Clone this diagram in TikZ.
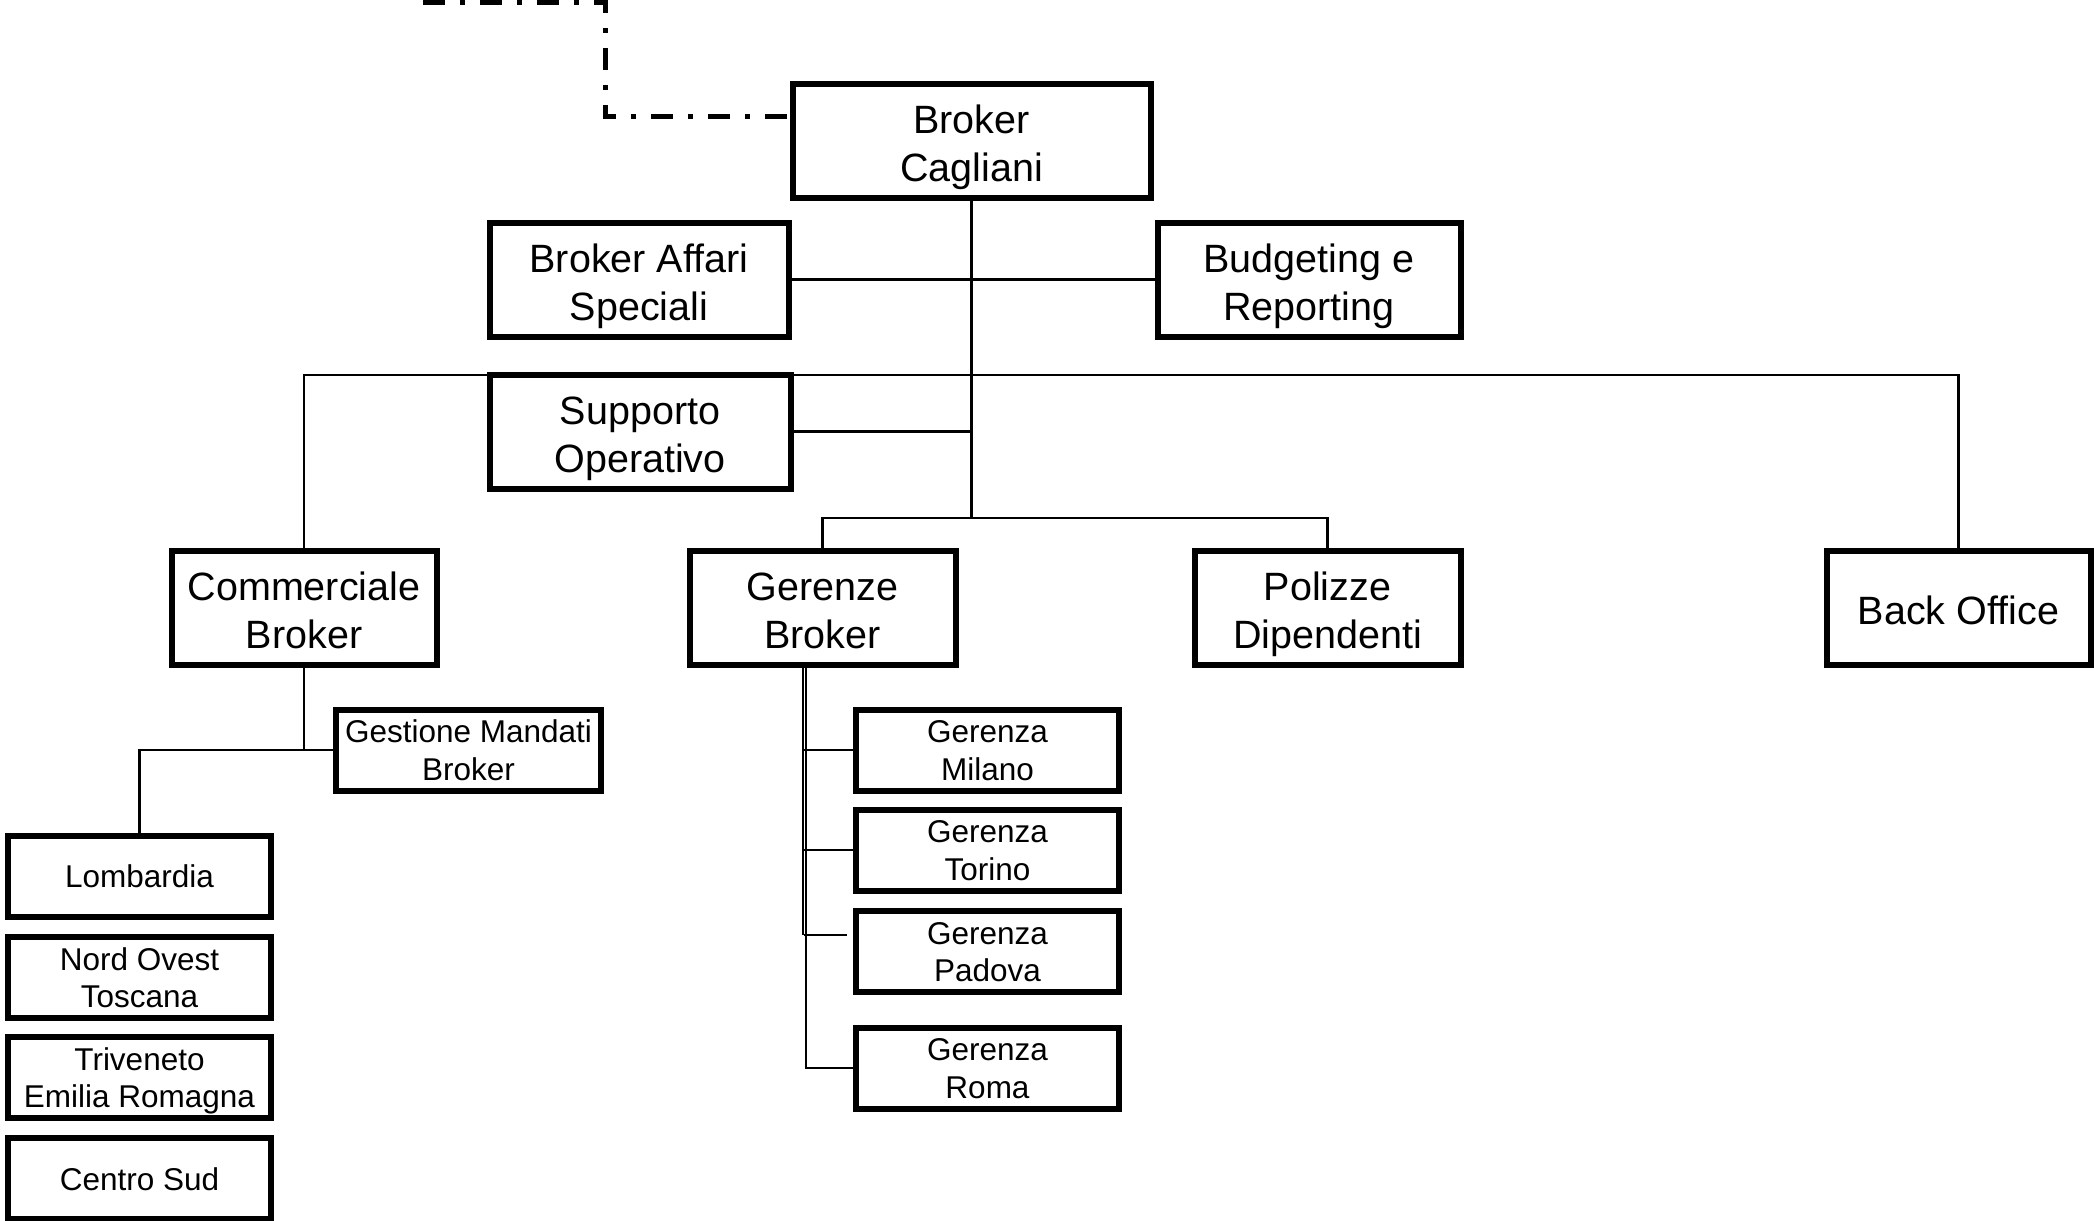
\documentclass[tikz,border=0pt]{standalone}
\usepackage{fontspec}
\setmainfont{Liberation Sans}
\newcommand{\bxfont}{\fontsize{39.5}{48}\selectfont}
\newcommand{\sbxfont}{\fontsize{31.5}{37.5}\selectfont}
\newcommand{\bA}{\rule{0pt}{49pt}}
\newcommand{\bB}{\rule[-14.4pt]{0pt}{14.4pt}}
\newcommand{\sA}{\rule{0pt}{33pt}}
\newcommand{\sB}{\rule[-9.7pt]{0pt}{9.7pt}}
\begin{document}
\begin{tikzpicture}[x=1pt,y=-1pt,
  box/.style={draw, line width=6pt, align=center, inner sep=0pt, font=\bxfont, minimum height=114pt},
  sbox/.style={draw, line width=6pt, align=center, inner sep=0pt, font=\sbxfont, minimum height=81pt, minimum width=263pt},
  conn/.style={line width=2.2pt},
  dashdot/.style={line width=5pt, dash pattern=on 22pt off 15pt on 5pt off 15pt}]
\fill[white] (0,0) rectangle (2094,1221);
\useasboundingbox (0,0) rectangle (2094,1221);
% top level
\node[box, minimum width=358pt] (bc) at (971.5,140.5) {\bA Broker\\Cagliani\bB};
\node[box, minimum width=299pt] (bas) at (639,279.5) {\bA Broker Affari\\Speciali\bB};
\node[box, minimum width=303pt] (br) at (1309,279.5) {\bA Budgeting e\\Reporting\bB};
\node[box, minimum width=301pt] (so) at (640,431.5) {\bA Supporto\\Operativo\bB};
\node[box, minimum width=265pt] (cb) at (304,607.5) {\bA Commerciale\\Broker\bB};
\node[box, minimum width=266pt] (gb) at (822.5,607.5) {\bA Gerenze\\Broker\bB};
\node[box, minimum width=266pt] (pd) at (1327.5,607.5) {\bA Polizze\\Dipendenti\bB};
\node[box, minimum width=264pt] (bo) at (1958.5,607.5) {\bA Back Office\bB};
% second level
\node[sbox, minimum width=265pt] (gmb) at (468.5,750) {\sA Gestione Mandati\\Broker\sB};
\node[sbox] (lomb) at (139.5,876) {\sA Lombardia\sB};
\node[sbox] (not) at (139.5,977.5) {\sA Nord Ovest\\Toscana\sB};
\node[sbox] (ter) at (139.5,1077.5) {\sA Triveneto\\Emilia Romagna\sB};
\node[sbox] (cs) at (139.5,1178.5) {\sA Centro Sud\sB};
\node[sbox] (mil) at (987.5,750) {\sA Gerenza\\Milano\sB};
\node[sbox] (tor) at (987.5,850) {\sA Gerenza\\Torino\sB};
\node[sbox] (pad) at (987.5,951.5) {\sA Gerenza\\Padova\sB};
\node[sbox] (rom) at (987.5,1068) {\sA Gerenza\\Roma\sB};
% coordinates
\coordinate (trunk) at (971.5,518);
\coordinate (bar) at (971.5,375);
\coordinate (ga) at (803,665);
\coordinate (gv) at (806,665);
\coordinate (padj) at (804,935);
\coordinate (d1) at (423,2);
\coordinate (d2) at (605,2);
\coordinate (d3) at (605,116);
% connectors
\draw[dashdot] (d1) -- (d2) -- (d3) -- (d3 -| bc.west);
\draw[conn] (bc.south) -- (trunk);
\draw[conn] (bas.east) -- (br.west);
\draw[conn] (cb.north) -- (cb.north |- bar) -- (bo.north |- bar) -- (bo.north);
\draw[conn] (so.east) -- (so.east -| trunk);
\draw[conn] (gb.north) -- (gb.north |- trunk) -- (pd.north |- trunk) -- (pd.north);
\draw[conn] (cb.south) -- (cb.south |- gmb.west) -- (gmb.west);
\draw[conn] (cb.south |- gmb.west) -- (gmb.west -| lomb.north) -- (lomb.north);
\draw[conn] (ga) -- (ga |- padj);
\draw[conn] (gv) -- (gv |- rom.west) -- (rom.west);
\draw[conn] (ga |- mil.west) -- (mil.west);
\draw[conn] (ga |- tor.west) -- (tor.west);
\draw[conn] (padj) -- ([xshift=-6pt]padj -| pad.west);
\end{tikzpicture}
\end{document}
